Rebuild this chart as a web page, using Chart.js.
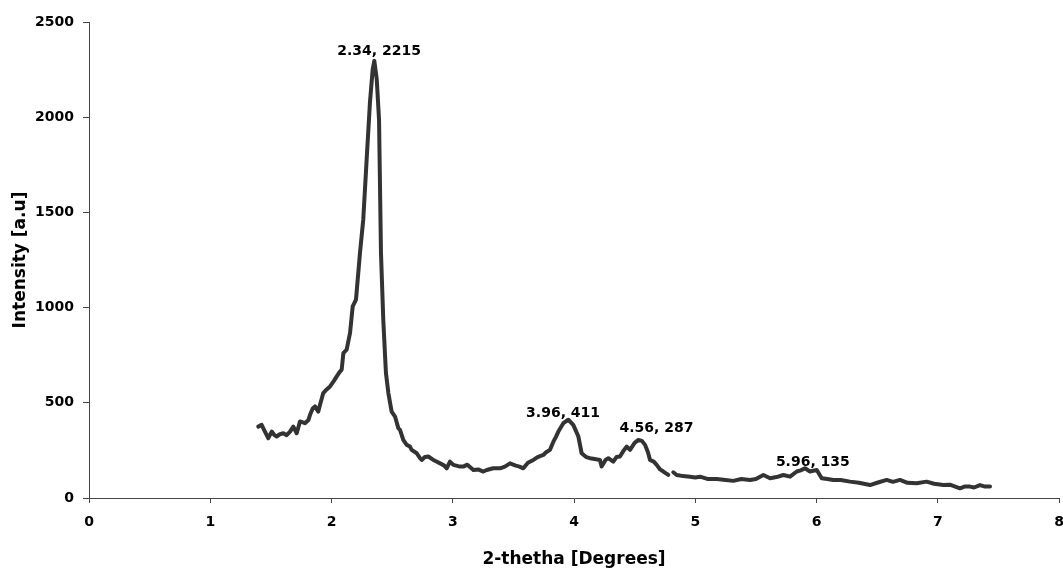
<!DOCTYPE html>
<html>
<head>
<meta charset="utf-8">
<script src="https://cdn.jsdelivr.net/npm/chart.js@4"></script>
<style>
  body { margin: 0; background: #fff; }
  #wrap { width: 1063px; height: 572px; }
</style>
</head>
<body>
<div id="wrap"><canvas id="xrdChart"></canvas></div>
<script>
// 2-theta values (degrees)
const twoTheta = [
  1.396, 1.424, 1.45, 1.479, 1.507, 1.53, 1.548, 1.575, 1.603, 1.63,
  1.658, 1.685, 1.713, 1.74, 1.781, 1.81, 1.823, 1.845, 1.864, 1.891,
  1.91, 1.932, 1.96, 1.988, 2.02, 2.043, 2.065, 2.084, 2.098, 2.125,
  2.153, 2.175, 2.202, 2.235, 2.262, 2.29, 2.317, 2.34, 2.353, 2.373,
  2.392, 2.408, 2.427, 2.449, 2.469, 2.496, 2.524, 2.551, 2.565, 2.592,
  2.62, 2.647, 2.661, 2.703, 2.73, 2.744, 2.77, 2.798, 2.84, 2.87,
  2.895, 2.93, 2.95, 2.977, 3.005, 3.06, 3.087, 3.12, 3.17, 3.21,
  3.252, 3.28, 3.334, 3.39, 3.43, 3.472, 3.52, 3.55, 3.582, 3.62,
  3.665, 3.7, 3.747, 3.77, 3.802, 3.83, 3.85, 3.871, 3.912, 3.953,
  3.994, 4.036, 4.063, 4.1, 4.132, 4.17, 4.214, 4.228, 4.26, 4.283,
  4.324, 4.35, 4.379, 4.41, 4.435, 4.462, 4.5, 4.531, 4.56, 4.586,
  4.61, 4.627, 4.66, 4.682, 4.71, 4.737, 4.778, 4.8, 4.819, 4.847,
  4.9, 4.957, 5.0, 5.039, 5.1, 5.177, 5.25, 5.314, 5.38, 5.452,
  5.5, 5.562, 5.617, 5.67, 5.727, 5.782, 5.837, 5.87, 5.905, 5.946,
  6.002, 6.043, 6.09, 6.139, 6.2, 6.276, 6.35, 6.441, 6.5, 6.579,
  6.63, 6.689, 6.75, 6.826, 6.908, 6.97, 7.046, 7.1, 7.183, 7.22,
  7.266, 7.3, 7.348, 7.39, 7.431
];

// intensity [a.u]; null = the break in the trace near 4.8
const intensity = [
  375, 384, 350, 314, 349, 330, 323, 335, 340, 330,
  349, 375, 340, 402, 393, 410, 437, 470, 481, 454,
  500, 551, 570, 586, 615, 639, 660, 674, 761, 779,
  867, 1007, 1042, 1288, 1463, 1779, 2077, 2253, 2296, 2200,
  1989, 1288, 937, 656, 551, 454, 428, 367, 358, 305,
  279, 270, 253, 235, 209, 200, 215, 218, 200, 190,
  182, 170, 156, 191, 174, 165, 165, 175, 147, 150,
  139, 147, 156, 156, 165, 182, 170, 165, 156, 185,
  200, 215, 226, 240, 253, 296, 320, 349, 393, 411,
  384, 323, 235, 215, 209, 205, 200, 165, 200, 209,
  191, 215, 218, 250, 270, 253, 290, 305, 300, 279,
  240, 200, 190, 174, 150, 139, 121, null, 135, 121,
  115, 112, 108, 112, 100, 100, 95, 90, 100, 95,
  100, 121, 104, 110, 121, 112, 139, 145, 156, 139,
  147, 104, 100, 95, 95, 86, 80, 68, 80, 95,
  85, 95, 80, 77, 86, 75, 68, 70, 51, 60,
  60, 55, 68, 60, 60
];

// peak labels and where they sit (data units)
const peakText = ['2.34, 2215', '3.96, 411', '4.56, 287', '5.96, 135'];
const peakLabelX = [2.393, 3.91, 4.68, 5.97];
const peakLabelY = [2344, 447, 368, 189];

const xTicks = [0, 1, 2, 3, 4, 5, 6, 7, 8];
const yTicks = [0, 500, 1000, 1500, 2000, 2500];

const FONT = '"DejaVu Sans", "Liberation Sans", Arial, sans-serif';

const points = twoTheta.map((x, i) => ({ x: x, y: intensity[i] }));

const peakLabels = {
    id: 'peakLabels',
    afterDatasetsDraw(chart) {
        const ctx = chart.ctx;
        const xs = chart.scales.x, ys = chart.scales.y;
        ctx.save();
        ctx.font = 'bold 14px ' + FONT;
        ctx.fillStyle = '#000';
        ctx.textAlign = 'center';
        ctx.textBaseline = 'middle';
        peakText.forEach((t, i) => {
            ctx.fillText(t, xs.getPixelForValue(peakLabelX[i]), ys.getPixelForValue(peakLabelY[i]));
        });
        ctx.restore();
    }
};

const ctx = document.getElementById('xrdChart').getContext('2d');
new Chart(ctx, {
    type: 'line',
    data: {
        datasets: [{
            data: points,
            borderColor: '#333333',
            borderWidth: 4,
            borderJoinStyle: 'round',
            borderCapStyle: 'round',
            pointRadius: 0,
            tension: 0,
            spanGaps: false,
            fill: false
        }]
    },
    options: {
        responsive: true,
        maintainAspectRatio: false,
        animation: false,
        layout: { padding: { top: 22, right: 4, left: 0, bottom: 0 } },
        plugins: { legend: { display: false }, tooltip: { enabled: false } },
        scales: {
            x: {
                type: 'linear',
                min: 0, max: 8,
                afterBuildTicks: s => { s.ticks = xTicks.map(v => ({ value: v })); },
                afterFit: s => { s.height = 74; s.paddingLeft = 0; s.paddingRight = 0; },
                grid: { drawOnChartArea: false, drawTicks: true, tickLength: 5, color: '#444' },
                border: { display: true, color: '#444', width: 1 },
                ticks: { color: '#000', padding: 11, font: { family: FONT, size: 14, weight: 'bold' },
                         callback: v => String(v) },
                title: { display: true, text: '2-thetha [Degrees]', color: '#000',
                         padding: { top: 0, bottom: 2 }, font: { family: FONT, size: 17, weight: 'bold' } }
            },
            y: {
                min: 0, max: 2500,
                afterBuildTicks: s => { s.ticks = yTicks.map(v => ({ value: v })); },
                afterFit: s => { s.width = 89; },
                grid: { drawOnChartArea: false, drawTicks: true, tickLength: 6, color: '#444' },
                border: { display: true, color: '#444', width: 1 },
                ticks: { color: '#000', padding: 9, font: { family: FONT, size: 14, weight: 'bold' },
                         callback: v => String(v) },
                title: { display: true, text: 'Intensity [a.u]', color: '#000',
                         padding: { top: 10, bottom: 0 }, font: { family: FONT, size: 17, weight: 'bold' } }
            }
        }
    },
    plugins: [peakLabels]
});
</script>
</body>
</html>
